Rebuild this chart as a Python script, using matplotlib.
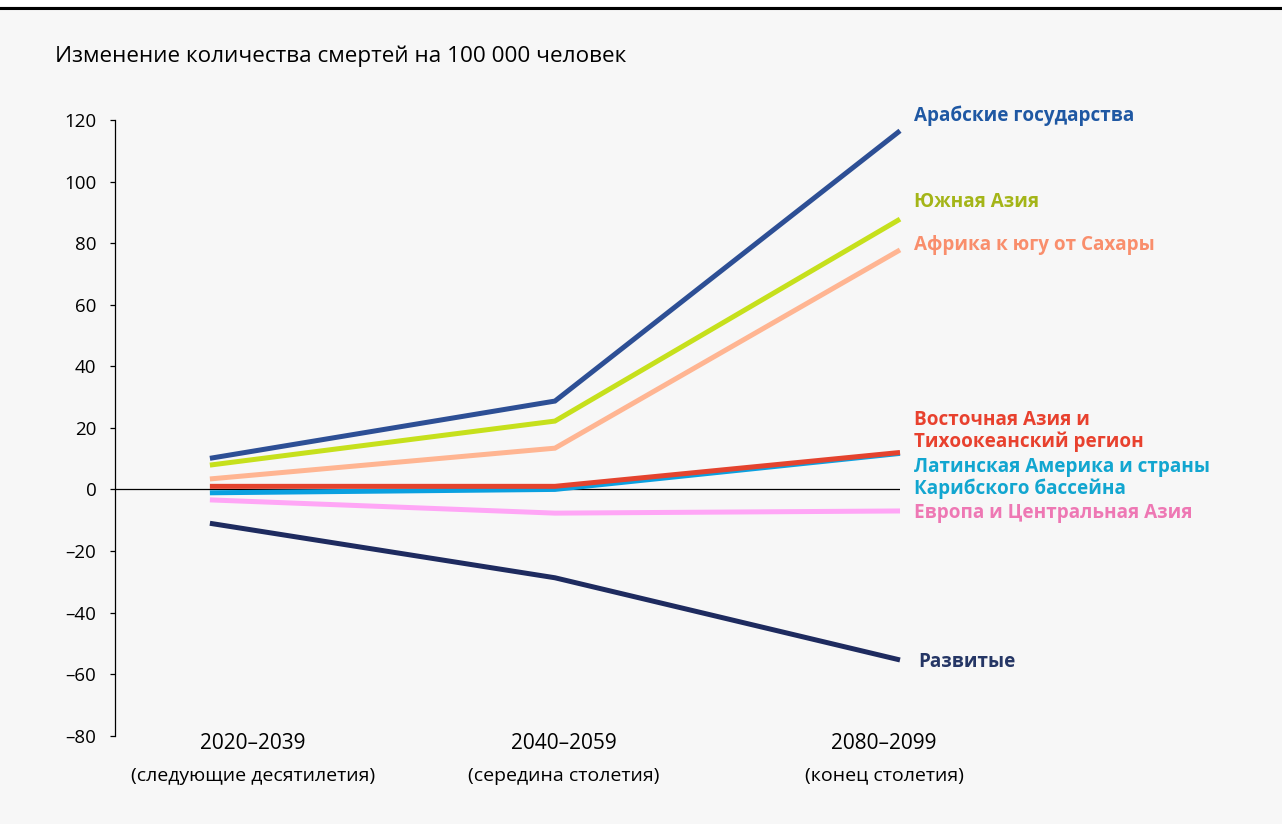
import matplotlib
matplotlib.use("Agg")
import matplotlib.pyplot as plt
from matplotlib.lines import Line2D

periods = ["2020–2039", "2040–2059", "2080–2099"]
period_notes = ["(следующие десятилетия)", "(середина столетия)", "(конец столетия)"]

regions = ["Арабские государства", "Южная Азия", "Африка к югу от Сахары",
           "Восточная Азия и\nТихоокеанский регион",
           "Латинская Америка и страны\nКарибского бассейна",
           "Европа и Центральная Азия", "Развитые"]
arab = [10.1, 28.7, 116.5]
south_asia = [7.9, 22.2, 87.8]
africa = [3.4, 13.4, 77.8]
east_asia = [1.0, 1.0, 12.0]
latin = [-1.1, 0.0, 11.7]
europe = [-3.4, -7.7, -7.0]
developed = [-11.0, -28.7, -55.4]
series = [arab, south_asia, africa, east_asia, latin, europe, developed]

line_colors = ["#2d4f95", "#c6e01c", "#ffb592", "#e4432e", "#0aa0e0", "#ffa6f6", "#1e2b5f"]
label_colors = ["#1f58a3", "#a4b518", "#f98e6c", "#e8412e", "#12a6d0", "#ee78b4", "#253665"]
label_y = [121.4, 93.4, 79.4, 19.1, 3.7, -7.7, -56]
label_dx_px = [14, 14, 14, 14, 14, 14, 18]
xlabel_dx_px = [43, 9, -16]

yticks = [120, 100, 80, 60, 40, 20, 0, -20, -40, -60, -80]
ytick_labels = ["120", "100", "80", "60", "40", "20", "0", "–20", "–40", "–60", "–80"]

plt.rcParams['font.family'] = ['Open Sans', 'DejaVu Sans']

W, H = 1282, 824
PT = 0.72  # points per pixel at 100 dpi
fig = plt.figure(figsize=(W / 100, H / 100), dpi=100)
fig.patch.set_facecolor("#f7f7f7")

fig.add_artist(plt.Rectangle((0, 1 - 6 / H), 1, 6 / H, transform=fig.transFigure,
                             facecolor="white", edgecolor="none"))
fig.add_artist(Line2D([0, 1], [1 - 7.5 / H, 1 - 7.5 / H], transform=fig.transFigure,
                      color="black", lw=2.2))

left, right = 115, 900
top, bottom = 120, 735.7
ax = fig.add_axes([left / W, 1 - bottom / H, (right - left) / W, (bottom - top) / H])
ax.set_facecolor("#f7f7f7")
ax.set_xlim(-0.275, 2)
ax.set_ylim(-80, 120)

ax.axhline(0, color="black", lw=0.9, zorder=1)

x = list(range(len(periods)))
order = [6, 5, 2, 1, 0, 4, 3]
for i in order:
    ax.plot(x, series[i], color=line_colors[i], lw=3.6, solid_capstyle="butt",
            solid_joinstyle="miter", clip_on=False, zorder=3)

for i, name in enumerate(regions):
    ax.annotate(name, xy=(2, label_y[i]), xytext=(label_dx_px[i] * PT, 0),
                textcoords="offset points", ha="left", va="center",
                color=label_colors[i], fontsize=13.6, fontweight="bold",
                linespacing=1.1, annotation_clip=False)

for s in ["top", "right", "bottom"]:
    ax.spines[s].set_visible(False)
ax.spines["left"].set_color("black")
ax.spines["left"].set_linewidth(0.9)
ax.set_yticks(yticks)
ax.set_yticklabels(ytick_labels)
ax.tick_params(axis="y", length=3.5, width=0.9, pad=10, labelsize=13.5, colors="black")
ax.set_xticks([])

for xi, (p, n) in enumerate(zip(periods, period_notes)):
    ax.annotate(p, xy=(xi, -80), xytext=(xlabel_dx_px[xi] * PT, -8 * PT),
                textcoords="offset points", ha="center", va="center",
                fontsize=15, annotation_clip=False)
    ax.annotate(n, xy=(xi, -80), xytext=(xlabel_dx_px[xi] * PT, -40 * PT),
                textcoords="offset points", ha="center", va="center",
                fontsize=14, annotation_clip=False)

fig.text(55 / W, 1 - 56 / H, "Изменение количества смертей на 100 000 человек",
         ha="left", va="center", fontsize=16.2)

fig.savefig("out.png", dpi=100, facecolor=fig.get_facecolor())
